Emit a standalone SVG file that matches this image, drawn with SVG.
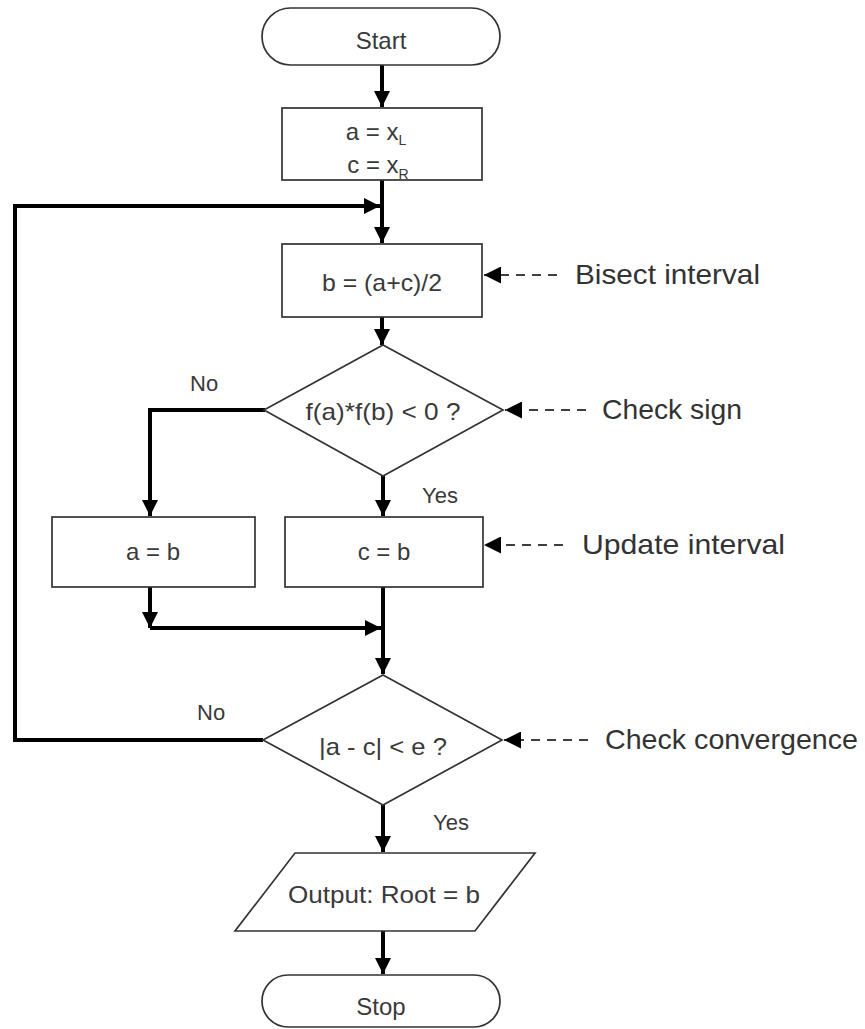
<svg xmlns="http://www.w3.org/2000/svg" width="865" height="1029" viewBox="0 0 865 1029">
<defs>
<style>
.shape{fill:#fff;stroke:#333;stroke-width:1.7}
.t{font-family:"Liberation Sans",Arial,sans-serif;font-size:24px;fill:#3a3a3a;text-anchor:middle}
.sub{font-size:14px}
.lbl{font-family:"Liberation Sans",Arial,sans-serif;font-size:22px;fill:#3a3a3a}
.note{font-family:"Liberation Sans",Arial,sans-serif;font-size:28px;fill:#333}
.conn{fill:none;stroke:#000;stroke-width:4}
.dash{fill:none;stroke:#000;stroke-width:1.7;stroke-dasharray:9 7}
</style>
<marker id="ah" viewBox="0 0 10 10" refX="10" refY="5" markerWidth="4" markerHeight="4" orient="auto" markerUnits="strokeWidth">
<path d="M0,0 L10,5 L0,10 z" fill="#000"/>
</marker>
<marker id="ahd" viewBox="0 0 10 10" refX="10" refY="5" markerWidth="10" markerHeight="10" orient="auto" markerUnits="strokeWidth">
<path d="M0,0 L10,5 L0,10 z" fill="#000"/>
</marker>
</defs>
<rect width="865" height="1029" fill="#fff"/>

<g id="connectors">
<line class="conn" x1="382" y1="65" x2="382" y2="107" marker-end="url(#ah)"/>
<line class="conn" x1="382" y1="180" x2="382" y2="243" marker-end="url(#ah)"/>
<polyline class="conn" points="263,740 15,740 15,206 380,206" marker-end="url(#ah)"/>
<line class="conn" x1="382" y1="317" x2="382" y2="345" marker-end="url(#ah)"/>
<polyline class="conn" points="265,410 150,410 150,516" marker-end="url(#ah)"/>
<line class="conn" x1="383" y1="476" x2="383" y2="516" marker-end="url(#ah)"/>
<line class="conn" x1="383" y1="587" x2="383" y2="674" marker-end="url(#ah)"/>
<line class="conn" x1="150" y1="587" x2="150" y2="628" marker-end="url(#ah)"/>
<line class="conn" x1="150" y1="628" x2="381" y2="628" marker-end="url(#ah)"/>
<line class="conn" x1="383" y1="805" x2="383" y2="852" marker-end="url(#ah)"/>
<line class="conn" x1="383" y1="931" x2="383" y2="974" marker-end="url(#ah)"/>
<line class="dash" x1="557" y1="275" x2="484" y2="275" marker-end="url(#ahd)"/>
<line class="dash" x1="586" y1="410" x2="505" y2="410" marker-end="url(#ahd)"/>
<line class="dash" x1="563" y1="545" x2="484" y2="545" marker-end="url(#ahd)"/>
<line class="dash" x1="588" y1="740" x2="504" y2="740" marker-end="url(#ahd)"/>
<text class="lbl" x="190" y="391">No</text>
<text class="lbl" x="422" y="503">Yes</text>
<text class="lbl" x="197" y="720">No</text>
<text class="lbl" x="433" y="830">Yes</text>
</g>

<g id="start">
<rect class="shape" x="262" y="8" width="238" height="57" rx="28.5"/>
<text class="t" x="381" y="49">Start</text>
</g>

<g id="init">
<rect class="shape" x="282" y="108" width="200" height="72"/>
<text class="t" x="376" y="140">a = x<tspan class="sub" dy="5">L</tspan></text>
<text class="t" x="378" y="173">c = x<tspan class="sub" dy="6">R</tspan></text>
</g>

<g id="bisect">
<rect class="shape" x="282" y="244" width="200" height="73"/>
<text class="t" x="382" y="291" textLength="120" lengthAdjust="spacingAndGlyphs">b = (a+c)/2</text>
</g>

<g id="checksign">
<polygon class="shape" points="383,345 503,410 383,476 264,410"/>
<text class="t" x="383" y="420" textLength="155" lengthAdjust="spacingAndGlyphs">f(a)*f(b) &lt; 0 ?</text>
</g>

<g id="setA">
<rect class="shape" x="52" y="517" width="203" height="70"/>
<text class="t" x="153" y="560">a = b</text>
</g>

<g id="setC">
<rect class="shape" x="285" y="517" width="198" height="70"/>
<text class="t" x="384" y="560">c = b</text>
</g>

<g id="convergence">
<polygon class="shape" points="383,675 502,740 383,805 263,740"/>
<text class="t" x="383" y="755" textLength="128" lengthAdjust="spacingAndGlyphs">|a - c| &lt; e ?</text>
</g>

<g id="output">
<polygon class="shape" points="295,853 535,853 475,931 235,931"/>
<text class="t" x="384" y="903" textLength="192" lengthAdjust="spacingAndGlyphs">Output: Root = b</text>
</g>

<g id="stop">
<rect class="shape" x="262" y="975" width="238" height="52" rx="26"/>
<text class="t" x="381" y="1015">Stop</text>
</g>

<g id="notes">
<text class="note" x="575" y="284" textLength="185" lengthAdjust="spacingAndGlyphs">Bisect interval</text>
<text class="note" x="602" y="419" textLength="140" lengthAdjust="spacingAndGlyphs">Check sign</text>
<text class="note" x="582" y="554" textLength="203" lengthAdjust="spacingAndGlyphs">Update interval</text>
<text class="note" x="605" y="749" textLength="253" lengthAdjust="spacingAndGlyphs">Check convergence</text>
</g>
</svg>
